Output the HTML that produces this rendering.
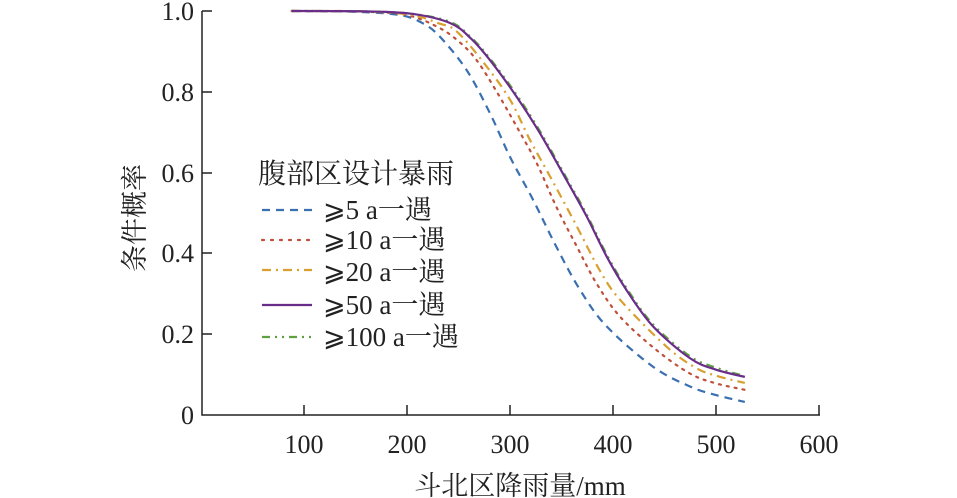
<!DOCTYPE html>
<html><head><meta charset="utf-8"><style>
html,body{margin:0;padding:0;background:#fff;}
svg{display:block;font-family:"Liberation Serif","Noto Serif CJK SC",serif;}
</style></head><body>
<svg id="s" width="957" height="498" viewBox="0 0 957 498">
<g stroke="#222" stroke-width="1.5" fill="none">
<path d="M202,11 V415 H820"/>
<path d="M202,11h10 M202,92h10 M202,173h10 M202,253h10 M202,334h10"/>
<path d="M304,415v-10 M407,415v-10 M510,415v-10 M613,415v-10 M716,415v-10 M819,415v-10"/>
</g>
<g font-size="26" fill="#222" text-anchor="end">
<text x="194" y="20">1.0</text><text x="194" y="101">0.8</text><text x="194" y="182">0.6</text>
<text x="194" y="262">0.4</text><text x="194" y="343">0.2</text><text x="194" y="424">0</text>
</g>
<g font-size="26" fill="#222" text-anchor="middle">
<text x="304" y="453">100</text><text x="407" y="453">200</text><text x="510" y="453">300</text>
<text x="613" y="453">400</text><text x="716" y="453">500</text><text x="819" y="453">600</text>
<text x="520" y="495" font-size="27">斗北区降雨量/mm</text>
<text transform="translate(144,218) rotate(-90)" font-size="27">条件概率</text>
</g>
<g id="curves" fill="none" stroke-width="2.2"></g>
<g font-size="27" fill="#222">
<text x="258" y="183" font-size="28">腹部区设计暴雨</text>
<text x="323" y="219">⩾5 a一遇</text>
<text x="323" y="249">⩾10 a一遇</text>
<text x="323" y="281">⩾20 a一遇</text>
<text x="323" y="314">⩾50 a一遇</text>
<text x="323" y="346">⩾100 a一遇</text>
</g>
<g fill="none" stroke-width="2.2">
<path d="M262,210H312" stroke="#3a6fb0" stroke-dasharray="8,6"/>
<path d="M262,240H312" stroke="#c0503a" stroke-dasharray="2,7" stroke-linecap="round"/>
<path d="M262,270H312" stroke="#d9a030" stroke-dasharray="9,5,2,5"/>
<path d="M262,305H312" stroke="#6a2d8a"/>
<path d="M262,337H312" stroke="#5fa040" stroke-dasharray="8,5,2,5,2,5"/>
</g>
</svg>
<script>
function X(v){return 201+v*1.03;}function Y(p){return 414-p*403;}
var S=[
["#3a6fb0","8,6",[[88,1],[150,.998],[193,.99],[215,.97],[232,.936],[258,.853],[280.6,.746],[300,.638],[322.5,.531],[345,.415],[368,.308],[394,.217],[439,.117],[475,.068],[500,.047],[528,.03]]],
["#c0503a","2,6",[[88,1],[160,.998],[200,.99],[230,.96],[250,.925],[267.6,.878],[287,.8],[306.5,.713],[326,.622],[345,.514],[365,.415],[384,.324],[407,.241],[442,.159],[475,.1],[500,.076],[528,.06]]],
["#d9a030","9,5,2,5",[[88,1],[160,.999],[205,.99],[230,.97],[248,.95],[275,.87],[300,.78],[319.4,.68],[339,.589],[365,.465],[387,.357],[407,.283],[452,.167],[480,.115],[500,.095],[528,.077]]],
["#5fa040","8,5,2,5,2,5",[[88,1],[160,.999],[205,.993],[242,.973],[262,.935],[280.6,.882],[306.5,.792],[329,.702],[355,.585],[374.5,.495],[394,.395],[413,.313],[439,.222],[475,.143],[500,.115],[528,.094]]],
["#6a2d8a","",[[88,1],[160,.999],[205,.993],[242,.97],[262,.932],[280.6,.878],[306.5,.787],[329,.697],[355,.58],[374.5,.49],[394,.39],[413,.308],[439,.217],[475,.138],[500,.11],[528,.092]]]
];
var g=document.getElementById("curves"),ns="http://www.w3.org/2000/svg";
S.forEach(function(s){var p=s[2].map(function(a){return [X(a[0]),Y(a[1])];});
var d="M"+p[0][0]+","+p[0][1];
for(var i=0;i<p.length-1;i++){var p0=p[i-1]||p[i],p1=p[i],p2=p[i+1],p3=p[i+2]||p2;
d+="C"+(p1[0]+(p2[0]-p0[0])/6)+","+(p1[1]+(p2[1]-p0[1])/6)+" "+(p2[0]-(p3[0]-p1[0])/6)+","+(p2[1]-(p3[1]-p1[1])/6)+" "+p2[0]+","+p2[1];}
var e=document.createElementNS(ns,"path");e.setAttribute("d",d);e.setAttribute("stroke",s[0]);
if(s[1])e.setAttribute("stroke-dasharray",s[1]);if(s[1]=="2,6")e.setAttribute("stroke-linecap","round");g.appendChild(e);});
</script>
</body></html>
